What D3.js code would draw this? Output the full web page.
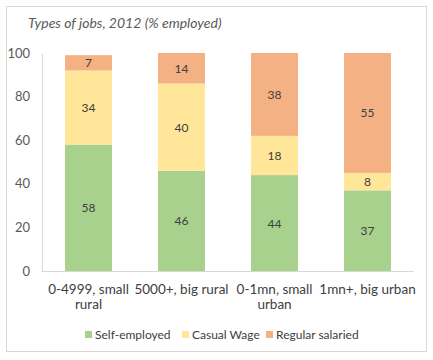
<!DOCTYPE html>
<html><head><meta charset="utf-8">
<script src="https://cdn.jsdelivr.net/npm/d3@7"></script>
<style>body{margin:0;background:#fff;} svg{display:block;font-family:Lato, "Open Sans", sans-serif;}</style>
</head><body>
<svg id="c" width="433" height="360"></svg>
<script>
const categories = ["0-4999, small rural", "5000+, big rural", "0-1mn, small urban", "1mn+, big urban"];
const seriesNames = ["Self-employed", "Casual Wage", "Regular salaried"];
const selfEmployed = [58, 46, 44, 37];
const casualWage = [34, 40, 18, 8];
const regularSalaried = [7, 14, 38, 55];
const yTicks = [0, 20, 40, 60, 80, 100];
const colors = ["#a9d18e", "#ffe699", "#f4b183"];

const svg = d3.select("#c");
svg.append("rect").attr("x", 6.5).attr("y", 6.5).attr("width", 420).attr("height", 345)
  .attr("fill", "#fff").attr("stroke", "#d9d9d9");

svg.append("text").attr("x", 28).attr("y", 28).attr("font-style", "italic")
  .attr("font-size", 14).attr("fill", "#595959").text("Types of jobs, 2012 (% employed)");

const x = d3.scaleBand().domain(categories).range([42, 414]).paddingInner(0.495).paddingOuter(0.2475);
const y = d3.scaleLinear().domain([0, 100]).range([271, 53]);

const table = categories.map((c, i) => ({cat: c, "Self-employed": selfEmployed[i], "Casual Wage": casualWage[i], "Regular salaried": regularSalaried[i]}));
const stacked = d3.stack().keys(seriesNames)(table);

const yAxis = svg.append("g").attr("transform", "translate(42,0)")
  .call(d3.axisLeft(y).tickValues(yTicks).tickSize(0).tickPadding(12));
yAxis.select(".domain").attr("stroke", "#d9d9d9");
yAxis.selectAll("text").attr("font-size", 13).attr("fill", "#595959").attr("font-family", "Lato, sans-serif");

const g = svg.append("g");
stacked.forEach((s, si) => {
  g.selectAll(null).data(s).join("rect")
    .attr("x", d => x(d.data.cat)).attr("width", x.bandwidth())
    .attr("y", d => y(d[1])).attr("height", d => y(d[0]) - y(d[1]))
    .attr("fill", colors[si]);
  g.selectAll(null).data(s).join("text")
    .attr("x", d => x(d.data.cat) + x.bandwidth() / 2)
    .attr("y", d => (y(d[0]) + y(d[1])) / 2 + 4.5)
    .attr("text-anchor", "middle").attr("font-size", 12).attr("fill", "#404040")
    .text(d => d[1] - d[0]);
});

const xAxis = svg.append("g").attr("transform", "translate(0,271)")
  .call(d3.axisBottom(x).tickSize(0).tickPadding(13));
xAxis.select(".domain").attr("stroke", "#d9d9d9").attr("d", "M42,0.5H414");
xAxis.selectAll("text").attr("font-size", 13.5).attr("font-weight", 400).attr("fill", "#404040")
  .attr("font-family", "Lato, sans-serif")
  .each(function(d) {
    const t = d3.select(this);
    const words = d.split(" ");
    t.text(null);
    let line = [];
    let ts = t.append("tspan").attr("x", 0).attr("dy", "0.71em");
    words.forEach(w => {
      line.push(w);
      ts.text(line.join(" "));
      if (ts.node().getComputedTextLength() > 102 && line.length > 1) {
        line.pop(); ts.text(line.join(" "));
        line = [w];
        ts = t.append("tspan").attr("x", 0).attr("dy", "1.15em").text(w);
      }
    });
  });

const legend = svg.append("g").attr("transform", "translate(0,339)");
const lx = [85, 182, 266];
seriesNames.forEach((n, i) => {
  legend.append("rect").attr("x", lx[i]).attr("y", -8).attr("width", 7).attr("height", 7).attr("fill", colors[i]);
  legend.append("text").attr("x", lx[i] + 10).attr("y", 0).attr("font-size", 12).attr("font-weight", 400)
    .attr("fill", "#404040").text(n);
});
</script>
</body></html>
